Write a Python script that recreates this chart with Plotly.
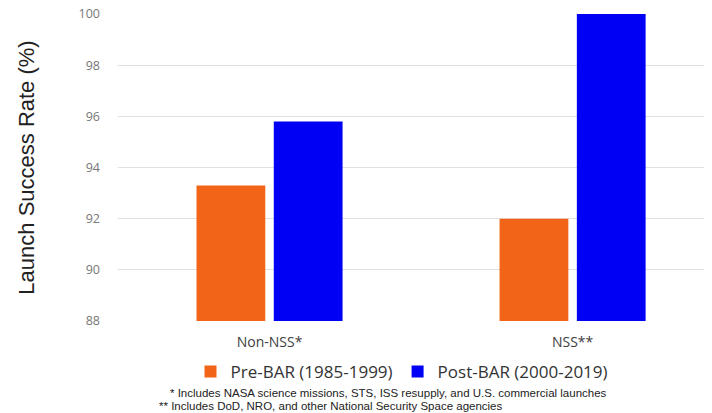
import plotly.graph_objects as go

categories = ["Non-NSS*", "NSS**"]
pre_bar = [93.3, 92.0]
post_bar = [95.8, 100.0]
series_names = ["Pre-BAR (1985-1999)", "Post-BAR (2000-2019)"]
y_ticks = [88, 90, 92, 94, 96, 98, 100]
footnotes = [
    "* Includes NASA science missions, STS, ISS resupply, and U.S. commercial launches",
    "** Includes DoD, NRO, and other National Security Space agencies",
]

# page has 8px body margin: figure is 704x405 inside the 712x413 window
W, H = 704, 405
L, T, B = 110, 6, 92
PH = H - T - B

fig = go.Figure()
fig.add_trace(go.Bar(x=categories, y=pre_bar, name=series_names[0],
                     marker=dict(color="#F26418", line=dict(width=0))))
fig.add_trace(go.Bar(x=categories, y=post_bar, name=series_names[1],
                     marker=dict(color="#0000F5", line=dict(width=0))))

fig.update_layout(
    width=W, height=H,
    margin=dict(l=L, r=0, t=T, b=B, autoexpand=False),
    paper_bgcolor="white", plot_bgcolor="white",
    barmode="group", bargap=0.49, bargroupgap=0.11,
    font=dict(family="Liberation Sans, Arial, sans-serif", color="#333"),
    xaxis=dict(range=[-0.5, 1.46], showgrid=False, showline=False, ticks="",
               ticklabelstandoff=11, automargin=False,
               tickfont=dict(family="Open Sans, sans-serif", size=14, color="#404040")),
    yaxis=dict(range=[88, 100], tickvals=y_ticks, showgrid=True, gridcolor="#e0e0e0",
               gridwidth=1, zeroline=False, showline=False, ticks="",
               ticklabelstandoff=17, ticklabeloverflow="allow", automargin=False,
               tickfont=dict(family="Open Sans, sans-serif", size=12.5, color="#777"),
               title=dict(text="Launch Success Rate (%)", standoff=37,
                          font=dict(family="Liberation Sans, Arial, sans-serif", size=22, color="#222"))),
    legend=dict(orientation="h", xref="container", yref="container",
                x=394 / W, xanchor="center", y=1 - 364 / H, yanchor="middle",
                font=dict(family="Open Sans, sans-serif", size=17, color="#333"),
                itemwidth=30, traceorder="normal"),
    showlegend=True,
)

note_x = [168, 157]
note_y = [393, 406]
for i, txt in enumerate(footnotes):
    fig.add_annotation(text=txt, xref="paper", yref="paper",
                       x=(note_x[i] - 118) / 594,
                       y=(321 - note_y[i]) / PH,
                       xanchor="left", yanchor="middle", showarrow=False,
                       font=dict(family="Liberation Sans, Arial, sans-serif", size=11.5, color="#222"))

fig.write_html("out.html")
